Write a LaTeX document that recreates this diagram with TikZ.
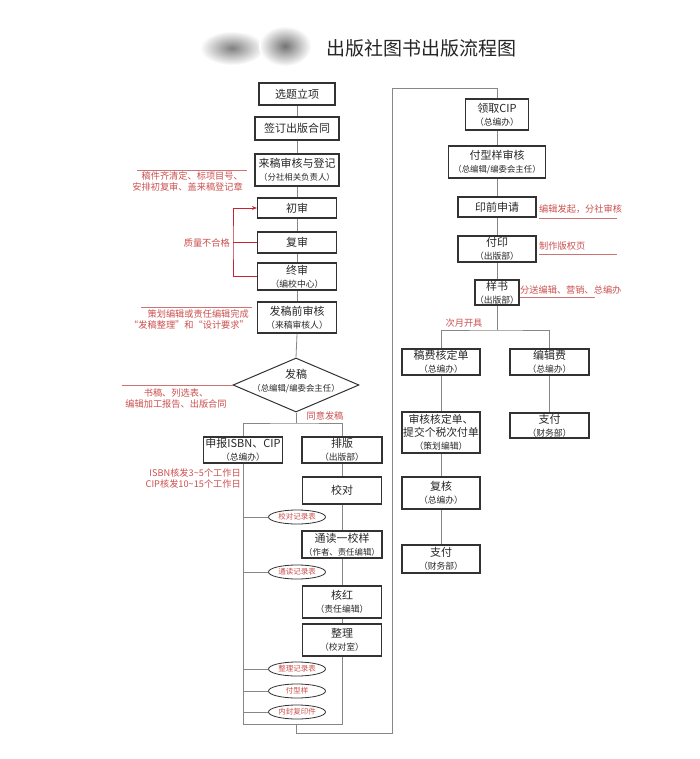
\documentclass[tikz,border=0pt]{standalone}
\usepackage{fontspec}
\setmainfont{Noto Sans CJK SC}
\usetikzlibrary{shapes.geometric,arrows.meta}
\definecolor{boxline}{RGB}{50,50,50}
\definecolor{conn}{RGB}{135,135,135}
\definecolor{redtxt}{RGB}{205,80,80}
\definecolor{redline}{RGB}{200,35,50}
\definecolor{pinkline}{RGB}{205,115,115}
\definecolor{txt}{RGB}{40,40,40}
\newcommand\subtx[1]{{\fontsize{8.8}{12}\selectfont #1}}
\newcommand\subsm[1]{{\fontsize{8.4}{12}\selectfont #1}}
\begin{document}
\begin{tikzpicture}[x=1pt,y=-1pt,
  box/.style={draw=boxline,line width=1.1pt,inner sep=0pt,align=center,text=txt,
    font=\fontsize{11}{13}\selectfont},
  thickbox/.style={box,line width=1.7pt},
  ell/.style={draw=boxline,line width=0.8pt,ellipse,inner sep=0pt,minimum width=57pt,
    minimum height=14pt,text=redtxt,font=\fontsize{7.5}{9}\selectfont},
  conn/.style={draw=conn,line width=0.8pt},
  rednote/.style={text=redtxt,inner sep=0pt,font=\fontsize{9.2}{11}\selectfont},
  uline/.style={draw=pinkline,line width=0.9pt},
  redl/.style={draw=redline,line width=0.9pt}
]
\useasboundingbox (0,0) rectangle (700,759);
\fill[white] (0,0) rectangle (700,759);

% smudge (redacted area)
\shade[inner color=black!50,outer color=white] (232,48) ellipse (32pt and 17pt);
\shade[inner color=black!55,outer color=white] (285,46) ellipse (26pt and 20pt);

% title
\node[text=black!85,inner sep=0pt,font=\fontsize{19}{22}\selectfont] (title) at (421.5,48) {出版社图书出版流程图};

% ---------- left column ----------
\node[box,minimum width=76pt,minimum height=22pt] (n1) at (297,94) {选题立项};
\node[box,minimum width=84pt,minimum height=23pt] (n2) at (297,128.5) {签订出版合同};
\node[box,minimum width=84pt,minimum height=32pt] (n3) at (297,170) {来稿审核与登记\\\subsm{（分社相关负责人）}};
\node[box,minimum width=79pt,minimum height=20pt] (n4) at (297,208) {初审};
\node[box,minimum width=79pt,minimum height=21pt] (n5) at (297,242.5) {复审};
\node[box,minimum width=79pt,minimum height=27pt] (n6) at (297,276.5) {终审\\\subtx{（编校中心）}};
\node[thickbox,minimum width=79pt,minimum height=31pt] (n7) at (297,317.5) {发稿前审核\\\subtx{（来稿审核人）}};
\node[draw=boxline,line width=1pt,diamond,minimum width=126pt,minimum height=54pt,inner sep=0pt] (n8) at (296,385) {};
\node[align=center,text=txt,inner sep=0pt,font=\fontsize{11}{13}\selectfont] (n8t) at (296,381) {发稿\\\subsm{（总编辑/编委会主任）}};

\node[box,minimum width=79pt,minimum height=26pt] (n9) at (243,450) {申报ISBN、CIP\\\subtx{（总编办）}};
\node[box,minimum width=80pt,minimum height=26pt] (n10) at (342,450) {排版\\\subtx{（出版部）}};
\node[box,minimum width=79pt,minimum height=27pt] (n11) at (342,490.5) {校对};
\node[box,minimum width=80pt,minimum height=27pt] (n12) at (342,544.5) {通读一校样\\\subsm{（作者、责任编辑）}};
\node[box,minimum width=79pt,minimum height=32pt] (n13) at (342,602) {核红\\\subtx{（责任编辑）}};
\node[box,minimum width=79pt,minimum height=32pt] (n14) at (342,640) {整理\\\subtx{（校对室）}};

\node[ell] (e1) at (297,517) {校对记录表};
\node[ell] (e2) at (297,572) {通读记录表};
\node[ell] (e3) at (297,669) {整理记录表};
\node[ell] (e4) at (297,691) {付型样};
\node[ell] (e5) at (297,712) {内封复印件};

% left connectors
\draw[conn] (n1) -- (n2);
\draw[conn] (n2) -- (n3);
\draw[conn] (n3) -- (n4);
\draw[conn] (n4) -- (n5);
\draw[conn] (n5) -- (n6);
\draw[conn] (n6) -- (n7);
\draw[conn] (n7.south) -- (n8.north);
\coordinate (s1) at (296,423);
\draw[conn] (n8.south) -- (s1);
\draw[conn] (n9.north) |- (s1) -| (n10.north);
\draw[conn] (n10) -- (n11);
\draw[conn] (n11) -- (n12);
\draw[conn] (n12) -- (n13);
\draw[conn] (n13) -- (n14);
\coordinate (bl) at (243,724);
\coordinate (br) at (342,724);
\coordinate (bm) at (296,724);
\draw[conn] (n9.south) -- (bl) -- (br) -- (n14.south);
\foreach \e in {e1,e2,e3,e4,e5} \draw[conn] (\e.west) -- (\e.west -| bl);

% return path to right column
\coordinate (ra) at (392,733);
\coordinate (rb) at (392,88);

% ---------- right column ----------
\node[box,minimum width=63pt,minimum height=31pt] (r1) at (497,114.5) {领取CIP\\\subtx{（总编办）}};
\node[thickbox,minimum width=97pt,minimum height=32pt] (r2) at (497,162) {付型样审核\\\subsm{（总编辑/编委会主任）}};
\node[box,minimum width=78pt,minimum height=20pt] (r3) at (497,207) {印前申请};
\node[box,minimum width=78pt,minimum height=26pt] (r4) at (497,249) {付印\\\subtx{（出版部）}};
\node[box,minimum width=44pt,minimum height=25pt] (r5) at (497,292.5) {样书\\\subtx{（出版部）}};
\node[box,minimum width=78pt,minimum height=26pt] (r6) at (441,362) {稿费核定单\\\subtx{（总编办）}};
\node[box,minimum width=79pt,minimum height=26pt] (r7) at (549.5,362) {编辑费\\\subtx{（总编办）}};
\node[box,minimum width=78pt,minimum height=41pt,font=\fontsize{10.8}{13}\selectfont] (r8) at (441,432.5) {审核核定单、\\提交个税次付单\\\subtx{（策划编辑）}};
\node[box,minimum width=79pt,minimum height=25pt] (r9) at (549.5,425.5) {支付\\\subtx{（财务部）}};
\node[box,minimum width=78pt,minimum height=32pt] (r10) at (441,493) {复核\\\subtx{（总编办）}};
\node[box,minimum width=78pt,minimum height=28pt] (r11) at (441,559) {支付\\\subtx{（财务部）}};

\draw[conn] (bm) |- (ra) -- (rb) -| (r1.north);
\draw[conn] (r1) -- (r2);
\draw[conn] (r2) -- (r3);
\draw[conn] (r3) -- (r4);
\draw[conn] (r4) -- (r5);
\coordinate (s2) at (497,330);
\draw[conn] (r5.south) -- (s2);
\draw[conn] (r6.north) |- (s2) -| (r7.north);
\draw[conn] (r6) -- (r8);
\draw[conn] (r8) -- (r10);
\draw[conn] (r10) -- (r11);
\draw[conn] (r7) -- (r9);

% ---------- red annotations ----------
\node[rednote,anchor=west] (t1) at (539,209) {编辑发起，分社审核};
\draw[uline] (539,218) -- (617,218);
\node[rednote,anchor=west] (t2) at (539,246) {制作版权页};
\draw[uline] (539,254) -- (617,254);
\node[rednote,anchor=west] (t3) at (520,290) {分送编辑、营销、总编办};
\draw[uline] (r5.east |- 0,297) -- (595,297);
\node[rednote] (t4) at (464,323) {次月开具};
\node[rednote] (t5) at (325,416) {同意发稿};

\node[rednote,anchor=east,align=right] (a1) at (243,181.5) {稿件齐清定、标项目号、\\安排初复审、盖来稿登记章};
\draw[uline] (137,170) -- (247,170);
\node[rednote,anchor=east,align=right] (a2) at (249,319.5) {策划编辑或责任编辑完成\\“发稿整理”和“设计要求”};
\draw[uline] (141,307) -- (252,307);
\node[rednote,align=center] (a3) at (176,398.5) {书稿、列选表、\\编辑加工报告、出版合同};
\draw[uline] (122,385) -- (n8.west);
\node[rednote,anchor=east,align=right] (a4) at (241,478) {ISBN核发3\textasciitilde5个工作日\\CIP核发10\textasciitilde15个工作日};

% quality loop
\coordinate (q) at (233,243);
\draw[redl] (n5.west) -- (n5.west -| q);
\draw[redl,-{Stealth[length=5pt,width=4pt]}] (n6.west) -| (q) |- (n4.west);
\node[rednote,anchor=east] (ql) at (230,243) {质量不合格};
\end{tikzpicture}
\end{document}
